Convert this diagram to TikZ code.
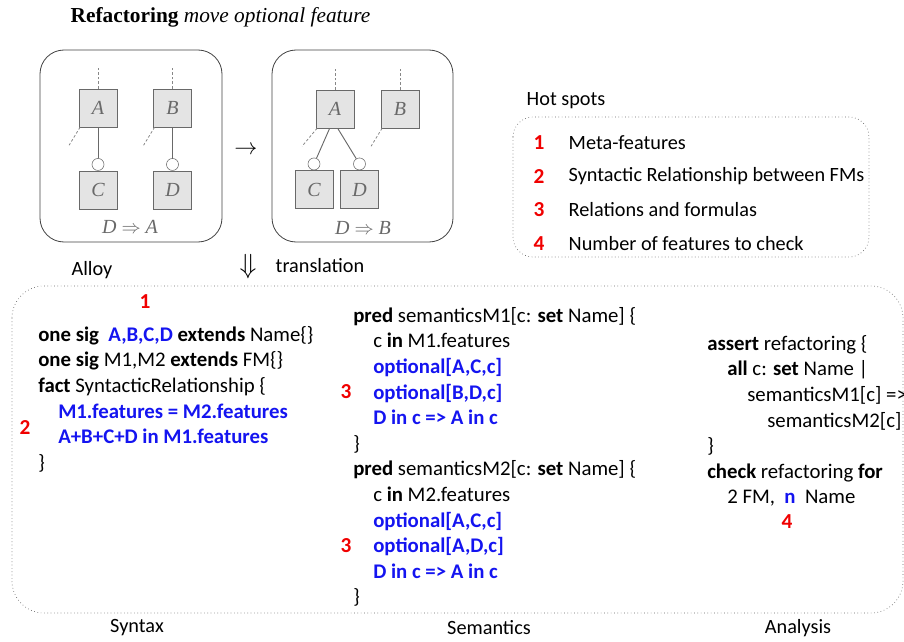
\documentclass[tikz,border=0pt]{standalone}
\usepackage{fontspec}
\setmainfont{Carlito}
\newfontfamily\timesfont{Liberation Serif}
\usetikzlibrary{positioning}

\definecolor{kwblue}{RGB}{20,20,240}
\definecolor{spotred}{RGB}{240,0,0}
\definecolor{fmgray}{RGB}{105,105,105}
\definecolor{fmfill}{RGB}{228,228,228}

% Alloy keywords and highlighted parts
\newcommand{\kw}[1]{\textbf{#1}}
\newcommand{\bluebf}[1]{\textcolor{kwblue}{\bfseries #1}}
\newcommand{\ind}{\hspace*{15pt}}

\tikzset{
  feat/.style={draw=fmgray, fill=fmfill, minimum size=28.5pt, inner sep=0pt,
    text=fmgray, font=\timesfont\itshape\fontsize{15}{15}\selectfont},
  opt/.style={circle, draw=fmgray, fill=white, minimum size=9pt, inner sep=0pt},
  fmline/.style={draw=fmgray, line width=0.7pt},
  stub/.style={draw=fmgray!80, dash pattern=on 2pt off 1.5pt, line width=0.6pt},
  fmbox/.style={draw=black!75, rounded corners=18pt, line width=0.6pt},
  spotbox/.style={draw=black!60, dotted, line width=0.5pt},
  code/.style={align=left, anchor=north west, inner sep=0pt,
    font=\fontsize{15.6}{19.2}\selectfont},
  spot/.style={text=spotred, font=\bfseries\fontsize{16}{16}\selectfont},
  label/.style={font=\fontsize{15.2}{15.2}\selectfont},
}

\begin{document}
\begin{tikzpicture}[x=0.75pt,y=-0.75pt]
  \useasboundingbox (0,0) rectangle (904,642);

  \node[anchor=west, font=\timesfont\fontsize{16}{18}\selectfont] (title) at (66,17)
    {\textbf{Refactoring} \textit{move optional feature}};

  % feature model before
  \draw[fmbox] (40,50) rectangle (222,242);
  \node[feat] (a1) at (98,108) {A};
  \node[feat] (b1) at (172.5,108) {B};
  \node[feat] (c1) at (98,190) {C};
  \node[feat] (d1) at (172.5,190) {D};
  \node[opt, above=0pt of c1] (oc1) {};
  \node[opt, above=0pt of d1] (od1) {};
  \draw[fmline] (a1) -- (oc1);
  \draw[fmline] (b1) -- (od1);
  \draw[stub] (a1.north) -- ++(0,-21);
  \draw[stub] (b1.north) -- ++(0,-21);
  \draw[stub] ([xshift=1pt]a1.south west) -- ++(-11,18);
  \draw[stub] ([xshift=1pt]b1.south west) -- ++(-11,18);
  \node[text=fmgray, font=\timesfont\itshape\fontsize{15}{15}\selectfont] (ct1) at (130,227)
    {D $\Rightarrow$ A};

  \node[font=\fontsize{18}{18}\selectfont] (step) at (246,150) {$\rightarrow$};

  % feature model after
  \draw[fmbox] (272,50) rectangle (453,242);
  \node[feat] (a2) at (335,109) {A};
  \node[feat] (b2) at (400,109) {B};
  \node[feat] (c2) at (314,189.5) {C};
  \node[feat] (d2) at (359.5,189.5) {D};
  \node[opt, above=0pt of c2] (oc2) {};
  \node[opt, above=0pt of d2] (od2) {};
  \draw[fmline] ([xshift=-4pt]a2.south) -- (oc2);
  \draw[fmline] ([xshift=2pt]a2.south) -- (od2);
  \draw[stub] (a2.north) -- ++(0,-21);
  \draw[stub] (b2.north) -- ++(0,-21);
  \draw[stub] ([xshift=1pt]a2.south west) -- ++(-15,18);
  \draw[stub] ([xshift=1pt]b2.south west) -- ++(-11,18);
  \node[text=fmgray, font=\timesfont\itshape\fontsize{15}{15}\selectfont] (ct2) at (363,228)
    {D $\Rightarrow$ B};

  % hot spots
  \node[label, anchor=west] (hot) at (522,101) {Hot spots};
  \draw[spotbox, rounded corners=15pt] (513,117) rectangle (869,257);
  \foreach \n/\txt [count=\i] in {1/Meta-features,
      2/Syntactic Relationship between FMs,
      3/Relations and formulas,
      4/Number of features to check} {
    \node[spot] (hs\i) at (539,{143+33.5*(\i-1)}) {\n};
    \node[label, anchor=west] (ht\i) at (564,{143+33.5*(\i-1)}) {\txt};
  }

  \node[label] (alloy) at (92,270) {Alloy};
  \node[font=\fontsize{21}{21}\selectfont] (down) at (248,267) {$\Downarrow$};
  \node[label, anchor=west] (transl) at (271,266) {translation};

  % Alloy model
  \draw[spotbox, rounded corners=24pt] (12,286) rectangle (903,613);

  \node[code] (syntax) at (38,326) {%
    \kw{one sig}~~\bluebf{A,B,C,D} \kw{extends} Name\{\}\\
    \kw{one sig} M1,M2 \kw{extends} FM\{\}\\
    \kw{fact} SyntacticRelationship \{\\
    \ind\bluebf{M1.features = M2.features}\\
    \ind\bluebf{A+B+C+D in M1.features}\\
    \}};

  \node[code] (semantics) at (353,307) {%
    \kw{pred} semanticsM1[c: \kw{set} Name] \{\\
    \ind c \kw{in} M1.features\\
    \ind\bluebf{optional[A,C,c]}\\
    \ind\bluebf{optional[B,D,c]}\\
    \ind\bluebf{D in c => A in c}\\
    \}\\
    \kw{pred} semanticsM2[c: \kw{set} Name] \{\\
    \ind c \kw{in} M2.features\\
    \ind\bluebf{optional[A,C,c]}\\
    \ind\bluebf{optional[A,D,c]}\\
    \ind\bluebf{D in c => A in c}\\
    \}};

  \node[code] (analysis) at (707,335) {%
    \kw{assert} refactoring \{\\
    \ind\kw{all} c: \kw{set} Name |\\
    \ind\ind semanticsM1[c] =>\\
    \ind\ind\ind semanticsM2[c]\\
    \}\\
    \kw{check} refactoring \kw{for}\\
    \ind 2 FM,~~\bluebf{n}~~Name};

  \node[spot] (m1) at (145,302) {1};
  \node[spot] (m2) at (25,428) {2};
  \node[spot] (m3a) at (346,392) {3};
  \node[spot] (m3b) at (346,546) {3};
  \node[spot] (m4) at (787,522) {4};

  \node[label] (syn) at (137,628) {Syntax};
  \node[label] (sem) at (489,628) {Semantics};
  \node[label] (ana) at (798,628) {Analysis};
\end{tikzpicture}
\end{document}
